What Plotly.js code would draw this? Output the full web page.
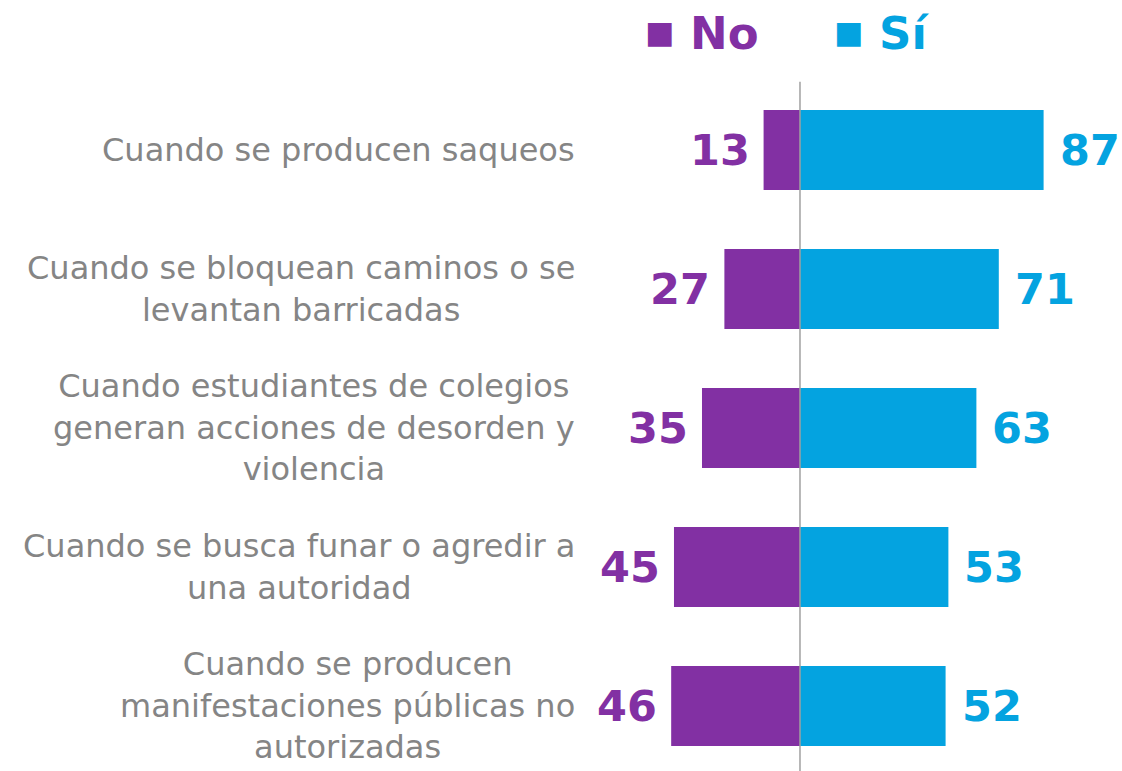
<!DOCTYPE html>
<html>
<head>
<meta charset="utf-8">
<script src="https://cdn.plot.ly/plotly-3.0.1.min.js"></script>
<style>html,body{margin:0;padding:0;background:#fff;}#chart{width:1122px;height:771px;}</style>
</head>
<body>
<div id="chart"></div>
<script>
const categories = [
  "Cuando se producen saqueos",
  "Cuando se bloquean caminos o se<br>levantan barricadas",
  "Cuando estudiantes de colegios<br>generan acciones de desorden y<br>violencia",
  "Cuando se busca funar o agredir a<br>una autoridad",
  "Cuando se producen<br>manifestaciones públicas no<br>autorizadas"
];
const noValues = [13, 27, 35, 45, 46];
const siValues = [87, 71, 63, 53, 52];
const seriesNames = ["No", "Sí"];
const colors = ["#8230a3", "#04a3e0"];

const ids = categories.map((c, i) => "c" + i);

const traces = [
  {type: "bar", orientation: "h", name: seriesNames[0], y: ids, x: noValues.map(v => -v),
   marker: {color: colors[0]}, hoverinfo: "skip", showlegend: false},
  {type: "bar", orientation: "h", name: seriesNames[1], y: ids, x: siValues,
   marker: {color: colors[1]}, hoverinfo: "skip", showlegend: false}
];

const numFont = {family: "DejaVu Sans, sans-serif", size: 43, weight: "bold"};
const annotations = [];
categories.forEach((c, i) => {
  annotations.push({x: 0.5145, xref: "paper", y: ids[i], yref: "y", text: c, showarrow: false,
    xanchor: "right", yanchor: "middle", align: "center",
    font: {family: "DejaVu Sans, sans-serif", size: 32, color: "#858585", weight: 400}});
  annotations.push({x: -noValues[i], y: ids[i], xref: "x", yref: "y", text: String(noValues[i]), showarrow: false,
    xanchor: "right", yanchor: "middle", xshift: -12, font: Object.assign({color: colors[0]}, numFont)});
  annotations.push({x: siValues[i], y: ids[i], xref: "x", yref: "y", text: String(siValues[i]), showarrow: false,
    xanchor: "left", yanchor: "middle", xshift: 14, font: Object.assign({color: colors[1]}, numFont)});
});
const legendSquareX = [0.573, 0.7415];
const legendTextX = [0.6132, 0.7816];
seriesNames.forEach((n, k) => {
  annotations.push({x: legendSquareX[k], xref: "paper", y: 0.958, yref: "paper", showarrow: false,
    xanchor: "left", yanchor: "middle", text: "■",
    font: {family: "DejaVu Sans", size: 31, color: colors[k]}});
  annotations.push({x: legendTextX[k], xref: "paper", y: 0.957, yref: "paper", showarrow: false,
    xanchor: "left", yanchor: "middle", text: n,
    font: Object.assign({}, numFont, {size: 45, color: colors[k]})});
});

const layout = {
  width: 1122, height: 771,
  margin: {l: 0, r: 0, t: 0, b: 0},
  paper_bgcolor: "#fff", plot_bgcolor: "#fff",
  barmode: "relative", bargap: 0.425,
  showlegend: false,
  xaxis: {range: [-285.7, 115], showgrid: false, zeroline: false, showticklabels: false, fixedrange: true},
  yaxis: {type: "category", categoryarray: ids, range: [4.468, -1.079], showgrid: false, zeroline: false,
          showticklabels: false, fixedrange: true},
  shapes: [{type: "line", xref: "x", x0: 0, x1: 0, yref: "paper", y0: 0, y1: 0.894,
            line: {color: "#a0a0a0", width: 1.5}, layer: "above"}],
  annotations: annotations
};
Plotly.newPlot("chart", traces, layout, {displayModeBar: false, staticPlot: true});
</script>
</body>
</html>
